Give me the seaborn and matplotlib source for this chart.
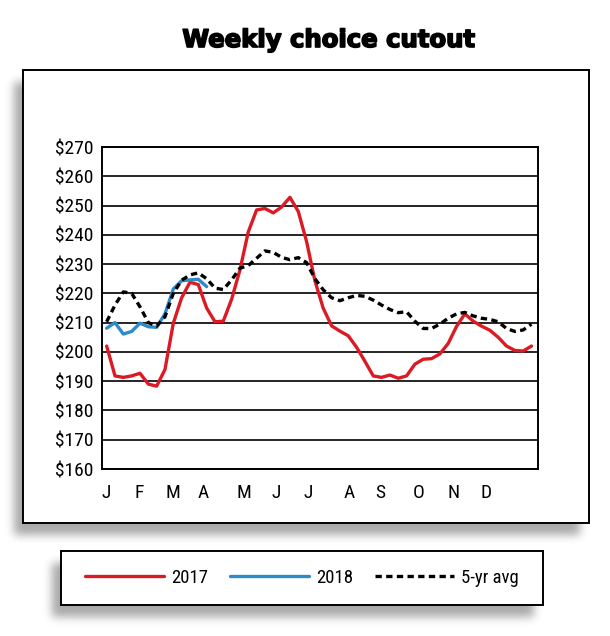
import numpy as np
import pandas as pd
import matplotlib
matplotlib.use("Agg")
import matplotlib.pyplot as plt
import matplotlib.patheffects as pe
import seaborn as sns
from matplotlib import font_manager
from matplotlib.patches import Rectangle

# dane tygodniowe
weeks = list(range(52))
cutout_2017 = [202, 191.8, 191.3, 191.8, 192.7, 189, 188.3, 194, 209.8, 218.5,
               223.8, 223, 215, 210.3, 210.5, 218, 228, 241, 248.5, 249,
               247.5, 249.5, 252.8, 248, 237.7, 224.3, 214.9, 208.9, 207.1, 205.5,
               201.6, 196.8, 191.8, 191.3, 192.1, 191, 191.8, 195.8, 197.5, 197.7,
               199.3, 202.9, 208.7, 213, 210.5, 208.8, 207.4, 205, 202, 200.5,
               200.3, 202]
cutout_2018 = [208.1, 210, 206.1, 207, 209.8, 208.6, 208.4, 213, 221.5, 224.3,
               224.6, 224.8, 222.3]
avg_5yr = [210.3, 216, 220.5, 220, 215.4, 210, 208.8, 212, 220, 224.5,
           226.3, 227, 225, 221.8, 221.3, 224.6, 228.6, 229.5, 232, 234.5,
           234, 232.3, 231.5, 232.2, 230.5, 225, 221.2, 218.5, 217.5, 218.5,
           219.3, 219, 217.7, 216, 214.5, 213.4, 213.7, 210.5, 208, 208,
           209.5, 211.5, 213, 213.5, 212.3, 211.5, 211.1, 210.3, 208, 207,
           207.5, 209.5]
month_labels = ["J", "F", "M", "A", "M", "J", "J", "A", "S", "O", "N", "D"]
month_pos = [0.0, 3.9, 7.9, 11.6, 16.5, 20.4, 24.2, 29.1, 32.9, 37.4, 41.6, 45.5]
y_ticks = list(range(160, 271, 10))
series_names = ["2017", "2018", "5-yr avg"]

red = "#dc1a24"
blue = "#2f8bc6"

sns.set_style("white")

# szukamy wąskiego fontu, jeśli jest
fonts = font_manager.fontManager.ttflist
installed = {f.name for f in fonts}
stretch = "normal"
family = "DejaVu Sans"
tick_fs, leg_fs = 11, 10.5
for name, tfs, lfs in [("Liberation Sans Narrow", 14, 13.5),
                       ("Roboto Condensed", 14, 13.5),
                       ("Open Sans Condensed", 13, 12.5),
                       ("DejaVu Sans Condensed", 12, 11.5)]:
    if name in installed:
        family, tick_fs, leg_fs = name, tfs, lfs
        break
else:
    if any(f.name == "DejaVu Sans" and f.stretch == "condensed" for f in fonts):
        stretch = "condensed"
        tick_fs, leg_fs = 12, 11.5

plt.rcParams["font.family"] = [family, "DejaVu Sans"]
plt.rcParams["font.stretch"] = stretch
plt.rcParams["text.color"] = "black"

W, H = 610, 636
fig = plt.figure(figsize=(W / 100, H / 100), dpi=100)

# ramki (w pikselach, od lewego górnego rogu)
outer = (23, 70, 589, 523)
leg_box = (61, 551, 543, 605)

# rozmyty cień pod ramkami
mask = np.zeros((H, W))
for x0, y0, x1, y1 in [outer, leg_box]:
    mask[y0 + 12:y1 + 12, x0 - 9:x1 - 9] = 1
k = np.exp(-0.5 * (np.arange(-15, 16) / 4.5) ** 2)
k /= k.sum()
mask = np.apply_along_axis(lambda r: np.convolve(r, k, mode="same"), 1, mask)
mask = np.apply_along_axis(lambda c: np.convolve(c, k, mode="same"), 0, mask)
shadow = np.zeros((H, W, 4))
shadow[..., 3] = mask * 0.34
fig.figimage(shadow, origin="upper", zorder=-2)

for x0, y0, x1, y1 in [outer, leg_box]:
    fig.add_artist(Rectangle((x0 / W, 1 - y1 / H), (x1 - x0) / W, (y1 - y0) / H,
                             transform=fig.transFigure, facecolor="white",
                             edgecolor="black", lw=1.4, zorder=-1))

ax = fig.add_axes([102 / W, 1 - 469 / H, 436 / W, 322 / H])

df17 = pd.DataFrame({"week": weeks, "price": cutout_2017})
df18 = pd.DataFrame({"week": weeks[:len(cutout_2018)], "price": cutout_2018})
dfavg = pd.DataFrame({"week": weeks, "price": avg_5yr})

sns.lineplot(data=df17, x="week", y="price", ax=ax, color=red, lw=2.4)
sns.lineplot(data=df18, x="week", y="price", ax=ax, color=blue, lw=2.4)
sns.lineplot(data=dfavg, x="week", y="price", ax=ax, color="black", lw=2.4,
             linestyle=(0, (1.9, 1.3)))

ax.set_xlim(-0.56, 51.78)
ax.set_ylim(160, 270)
ax.set_yticks(y_ticks)
ax.set_yticklabels([f"${v}" for v in y_ticks])
ax.set_xticks(month_pos)
ax.set_xticklabels(month_labels)
ax.set_xlabel("")
ax.set_ylabel("")
ax.tick_params(length=0, labelsize=tick_fs, colors="black")
ax.tick_params(axis="x", pad=11)
ax.tick_params(axis="y", pad=6)
ax.yaxis.grid(True, color="black", lw=1.2)
ax.xaxis.grid(False)
ax.set_axisbelow(True)
for s in ax.spines.values():
    s.set_color("black")
    s.set_linewidth(1.4)

px = leg_fs * 100 / 72
leg = fig.legend(handles=ax.get_lines()[:3], labels=series_names, loc="center",
                 bbox_to_anchor=(302 / W, 1 - 578 / H), ncol=3, frameon=False,
                 fontsize=leg_fs, handlelength=79 / px, handletextpad=7 / px,
                 columnspacing=22 / px)

fig.text(328 / W, 1 - 40 / H, "Weekly choice cutout", ha="center", va="center",
         fontsize=17.5, fontweight="bold", family="DejaVu Sans",
         stretch="normal",
         path_effects=[pe.withStroke(linewidth=1.2, foreground="black")])

fig.savefig("out.png", dpi=100)
